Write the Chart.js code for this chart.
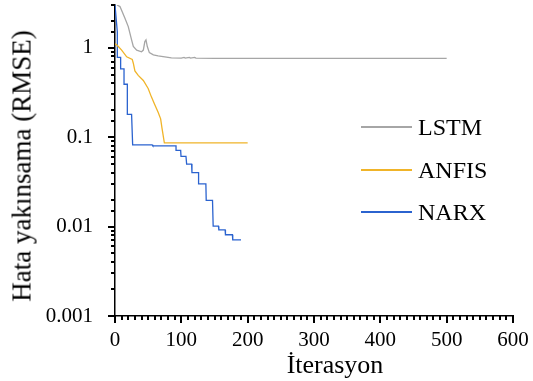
<!DOCTYPE html>
<html>
<head>
<meta charset="utf-8">
<script src="https://cdn.jsdelivr.net/npm/chart.js@4.4.1/dist/chart.umd.min.js"></script>
<style>
  body { margin: 0; background: #fff; }
  #wrap { position: relative; width: 533px; height: 381px; font-family: "Liberation Serif", "Times New Roman", serif; color: #000; }
  #chart { position: absolute; left: 0; top: 0; }
  .ttl { position: absolute; white-space: nowrap; line-height: 1; }
  #xtitle { left: 335px; top: 352px; font-size: 26px; transform: translateX(-50%); }
  #ytitle { left: 22px; top: 166px; font-size: 27px; transform: translate(-50%, -50%) rotate(-90deg); }
  .leg { position: absolute; left: 361px; height: 24px; }
  .leg span.ln { position: absolute; left: 0; top: 11px; width: 51px; height: 2px; }
  .leg span.tx { position: absolute; left: 57px; top: 0; font-size: 24px; line-height: 24px; white-space: nowrap; }
  .tk { position: absolute; background: #000; }
</style>
</head>
<body>
<div id="wrap">
  <canvas id="chart" width="533" height="381"></canvas>
  <div id="ticks"></div>
  <div class="ttl" id="xtitle">İterasyon</div>
  <div class="ttl" id="ytitle">Hata yakınsama (RMSE)</div>
  <div id="legend"></div>
</div>
<script>
// series names and colours
const seriesNames = ['LSTM', 'ANFIS', 'NARX'];
const seriesColors = ['#a6a6a6', '#f0b429', '#2b63cf'];

// LSTM
const lstmIter = [3, 7.5, 15, 20, 25, 27.6, 32.7, 40, 42.7, 45, 46.7, 48.7, 51.8, 57.8, 65, 85, 100, 104, 106, 112, 114, 120, 122, 150, 500];
const lstmRmse = [3.0, 2.88, 2.13, 1.72, 1.22, 1.03, 0.94, 0.90, 0.94, 1.17, 1.22, 1.03, 0.88, 0.83, 0.81, 0.77, 0.765, 0.78, 0.765, 0.78, 0.765, 0.78, 0.765, 0.76, 0.76];

// ANFIS
const anfisIter = [0, 1.5, 5, 10, 17.6, 26, 27.6, 30, 35, 42.7, 50, 55, 60, 65, 68.8, 70.9, 74.4, 200];
const anfisRmse = [1.1, 1.09, 1.03, 0.94, 0.79, 0.74, 0.67, 0.55, 0.49, 0.43, 0.35, 0.28, 0.23, 0.19, 0.16, 0.125, 0.086, 0.086];

// NARX
const narxIter = [0, 3.5, 3.5, 8.5, 8.5, 13.6, 13.6, 18.6, 18.6, 25, 26.6, 56, 57, 92, 92, 99, 99.5, 107, 108, 115.5, 116, 126, 126, 137, 137.5, 147, 148, 156, 156.5, 166, 166.5, 177, 177.5, 190];
const narxRmse = [3.0, 1.5, 0.78, 0.78, 0.58, 0.58, 0.39, 0.39, 0.18, 0.18, 0.082, 0.082, 0.08, 0.08, 0.071, 0.071, 0.061, 0.061, 0.05, 0.05, 0.04, 0.04, 0.03, 0.03, 0.0196, 0.0196, 0.0101, 0.0101, 0.0092, 0.0092, 0.0081, 0.0081, 0.0071, 0.0071];

// axis ticks
const xTickLabels = [0, 100, 200, 300, 400, 500, 600];
const yTickLabels = [0.001, 0.01, 0.1, 1];

const serif = '"Liberation Serif", "Times New Roman", serif';

function toPoints(xs, ys) {
  return xs.map((x, i) => ({ x: x, y: ys[i] }));
}

function isPow10(v) {
  const l = Math.log10(v);
  return Math.abs(l - Math.round(l)) < 1e-6;
}

const datasets = [
  { label: seriesNames[0], data: toPoints(lstmIter, lstmRmse), borderColor: seriesColors[0] },
  { label: seriesNames[1], data: toPoints(anfisIter, anfisRmse), borderColor: seriesColors[1] },
  { label: seriesNames[2], data: toPoints(narxIter, narxRmse), borderColor: seriesColors[2] }
].map(d => Object.assign(d, { borderWidth: 1.3, pointRadius: 0, tension: 0, fill: false }));

// keep room for the tick marks, which are placed below from the scales
const hiddenTicks = { drawOnChartArea: false, drawTicks: true, tickLength: 7, color: 'rgba(0,0,0,0)', tickColor: 'rgba(0,0,0,0)' };

const chart = new Chart(document.getElementById('chart'), {
  type: 'line',
  data: { datasets: datasets },
  options: {
    responsive: false,
    animation: false,
    layout: { padding: { top: 5, right: 20, left: 0, bottom: 0 } },
    plugins: { legend: { display: false }, tooltip: { enabled: false } },
    scales: {
      x: {
        type: 'linear',
        min: 0,
        max: 600,
        afterFit(scale) { scale.height = 65; scale.paddingLeft = 0; scale.paddingRight = 0; },
        border: { display: true, color: '#000', width: 1.5 },
        grid: hiddenTicks,
        ticks: {
          stepSize: 10,
          autoSkip: false,
          maxRotation: 0,
          padding: 5,
          color: '#000',
          font: { family: serif, size: 21 },
          callback: v => xTickLabels.includes(v) ? String(v) : ''
        }
      },
      y: {
        type: 'logarithmic',
        min: 0.001,
        max: 3,
        afterFit(scale) { scale.width = 115; scale.paddingTop = 0; scale.paddingBottom = 0; },
        border: { display: true, color: '#000', width: 1.5 },
        grid: hiddenTicks,
        ticks: {
          autoSkip: false,
          padding: 15,
          color: '#000',
          font: { family: serif, size: 21 },
          callback: v => {
            const hit = yTickLabels.find(t => Math.abs(t - v) / t < 1e-6);
            return hit !== undefined ? String(hit) : '';
          }
        }
      }
    }
  }
});

// tick marks: long at labelled values, short in between, positioned by the chart's scales
const xs = chart.scales.x;
const ys = chart.scales.y;
const area = chart.chartArea;
let marks = '';
xs.ticks.forEach(t => {
  const px = Math.round(xs.getPixelForValue(t.value));
  const len = xTickLabels.includes(t.value) ? 7 : 4;
  marks += `<div class="tk" style="left:${px - 0.75}px;top:${area.bottom}px;width:1.5px;height:${len}px"></div>`;
});
ys.ticks.forEach(t => {
  const py = Math.round(ys.getPixelForValue(t.value));
  const len = isPow10(t.value) ? 7 : 4;
  marks += `<div class="tk" style="left:${area.left - len}px;top:${py - 0.75}px;width:${len}px;height:1.5px"></div>`;
});
document.getElementById('ticks').innerHTML = marks;

// legend on the right inside the plot
const legendTops = [115, 158, 200];
document.getElementById('legend').innerHTML = seriesNames.map((name, i) => `
  <div class="leg" style="top:${legendTops[i]}px"><span class="ln" style="background:${seriesColors[i]}"></span><span class="tx">${name}</span></div>
`).join('');
</script>
</body>
</html>
